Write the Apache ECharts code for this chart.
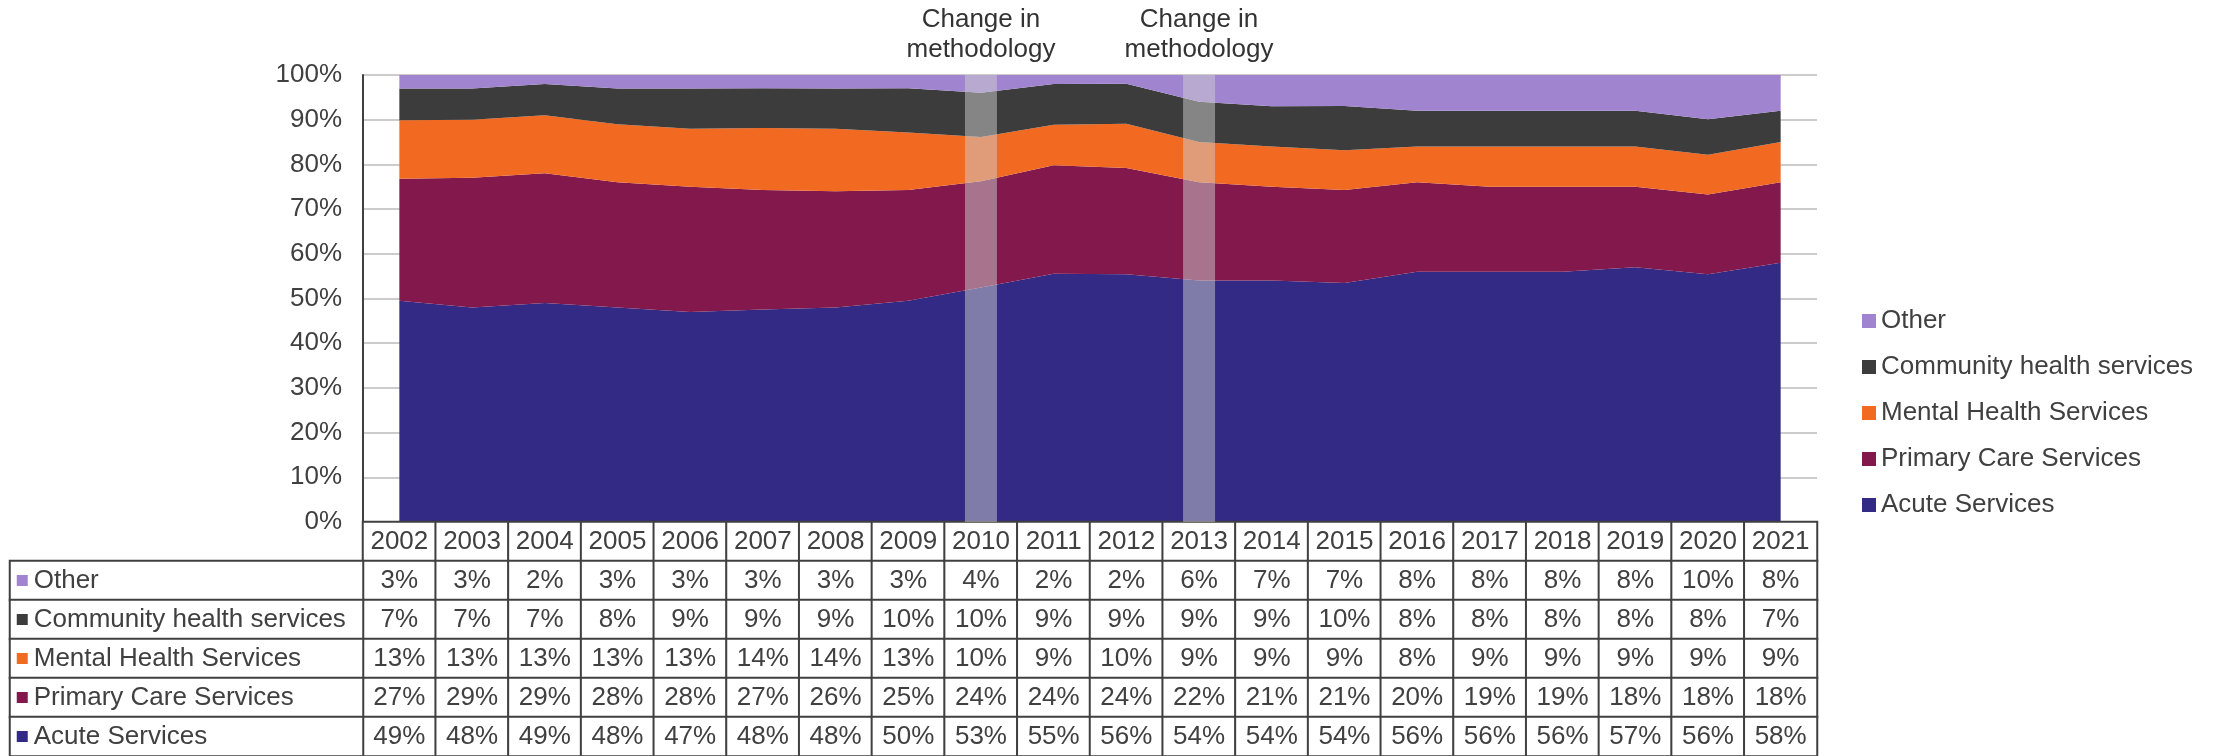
<!DOCTYPE html>
<html>
<head>
<meta charset="utf-8">
<script src="https://cdn.jsdelivr.net/npm/echarts@6/dist/echarts.min.js"></script>
<style>
html,body{margin:0;padding:0;background:#fff;}
#chart{width:2223px;height:756px;}
</style>
</head>
<body>
<div id="chart"></div>
<script>
const years = ['2002','2003','2004','2005','2006','2007','2008','2009','2010','2011','2012','2013','2014','2015','2016','2017','2018','2019','2020','2021'];
const other = [3,3,2,3,3,3,3,3,4,2,2,6,7,7,8,8,8,8,10,8];
const community = [7,7,7,8,9,9,9,10,10,9,9,9,9,10,8,8,8,8,8,7];
const mental = [13,13,13,13,13,14,14,13,10,9,10,9,9,9,8,9,9,9,9,9];
const primary = [27,29,29,28,28,27,26,25,24,24,24,22,21,21,20,19,19,18,18,18];
const acute = [49,48,49,48,47,48,48,50,53,55,56,54,54,54,56,56,56,57,56,58];
const methodologyYears = ['2010','2013'];
const annotationText = 'Change in\nmethodology';
const yTicks = [0,10,20,30,40,50,60,70,80,90,100];

const seriesNames = ['Acute Services','Primary Care Services','Mental Health Services','Community health services','Other'];
const seriesData = [acute, primary, mental, community, other];
const colors = ['#332a86','#82184c','#f26a22','#3c3c3c','#a084d0'];
const tableRows = ['Other','Community health services','Mental Health Services','Primary Care Services','Acute Services'];
const tableData = [other, community, mental, primary, acute];
const tableColors = ['#a084d0','#3c3c3c','#f26a22','#82184c','#332a86'];

const FONT = 'Liberation Sans';
const TXT = '#404040';
const FS = 26;

// 100% stacked: each year's shares scaled to their total
const totals = years.map((_, i) => seriesData.reduce((s, arr) => s + arr[i], 0));

const areaSeries = seriesNames.map((name, k) => ({
  name: name,
  type: 'line',
  stack: 'total',
  xAxisIndex: 0, yAxisIndex: 0,
  symbol: 'none',
  lineStyle: { width: 0 },
  areaStyle: { color: colors[k], opacity: 1 },
  itemStyle: { color: colors[k] },
  emphasis: { disabled: true },
  z: 2,
  data: seriesData[k].map((v, i) => v / totals[i] * 100)
}));

const bandSeries = {
  name: 'methodology',
  type: 'bar',
  xAxisIndex: 0, yAxisIndex: 0,
  barWidth: 32,
  z: 10,
  itemStyle: { color: 'rgba(205,205,205,0.5)' },
  emphasis: { disabled: true },
  label: {
    show: true, position: 'top', distance: 10,
    formatter: annotationText,
    fontFamily: FONT, fontSize: FS, lineHeight: 30, color: '#333'
  },
  data: years.map(y => methodologyYears.includes(y) ? 100 : null)
};

// table (header + values)
const tableYCats = ['year'].concat(tableRows);
const tableCells = [];
years.forEach((y, i) => {
  tableCells.push([i, 0, +y]);
  tableData.forEach((arr, r) => tableCells.push([i, r + 1, arr[i]]));
});
const tableSeries = {
  type: 'heatmap',
  xAxisIndex: 1, yAxisIndex: 1,
  itemStyle: { color: '#ffffff', borderColor: '#404040', borderWidth: 2 },
  emphasis: { disabled: true },
  label: {
    show: true, fontFamily: FONT, fontSize: FS, color: TXT,
    formatter: p => p.data[1] === 0 ? years[p.data[0]] : p.data[2] + '%'
  },
  data: tableCells
};

const rich = { t: { fontFamily: FONT, fontSize: FS, color: TXT, padding: [0,0,0,6] } };
tableColors.forEach((c, i) => { rich['s' + i] = { backgroundColor: c, width: 11, height: 11 }; });
const labelSeries = {
  type: 'heatmap',
  xAxisIndex: 2, yAxisIndex: 2,
  itemStyle: { color: '#ffffff', borderColor: '#404040', borderWidth: 2 },
  emphasis: { disabled: true },
  label: {
    show: true, position: 'insideLeft', distance: 8,
    formatter: p => '{s' + p.data[1] + '| }{t|' + tableRows[p.data[1]] + '}',
    rich: rich
  },
  data: tableRows.map((n, i) => [0, i, i])
};

const chart = echarts.init(document.getElementById('chart'));
chart.setOption({
  animation: false,
  backgroundColor: '#ffffff',
  textStyle: { fontFamily: FONT },
  grid: [
    { left: 363, right: 406, top: 75, bottom: 234 },
    { left: 363, right: 406, top: 522, bottom: 0 },
    { left: 10, width: 353, top: 561, bottom: 0 }
  ],
  legend: {
    orient: 'vertical', left: 1857, top: 303,
    itemWidth: 14, itemHeight: 14, itemGap: 20,
    icon: 'rect',
    data: ['Other','Community health services','Mental Health Services','Primary Care Services','Acute Services'],
    textStyle: { fontFamily: FONT, fontSize: FS, color: TXT }
  },
  xAxis: [
    { type: 'category', gridIndex: 0, data: years, boundaryGap: true,
      axisLabel: { show: false }, axisTick: { show: false },
      axisLine: { show: true, lineStyle: { color: '#404040', width: 2 } } },
    { type: 'category', gridIndex: 1, data: years, show: false },
    { type: 'category', gridIndex: 2, data: ['label'], show: false }
  ],
  yAxis: [
    { type: 'value', gridIndex: 0, min: 0, max: 100, interval: 10,
      axisLine: { show: true, lineStyle: { color: '#404040', width: 2 } },
      axisTick: { show: false },
      splitLine: { show: true, lineStyle: { color: '#cccccc', width: 2 } },
      axisLabel: { formatter: '{value}%', fontFamily: FONT, fontSize: FS, color: TXT, margin: 21 } },
    { type: 'category', gridIndex: 1, data: tableYCats, inverse: true, show: false },
    { type: 'category', gridIndex: 2, data: tableRows, inverse: true, show: false }
  ],
  series: areaSeries.concat([bandSeries, tableSeries, labelSeries])
});
</script>
</body>
</html>
